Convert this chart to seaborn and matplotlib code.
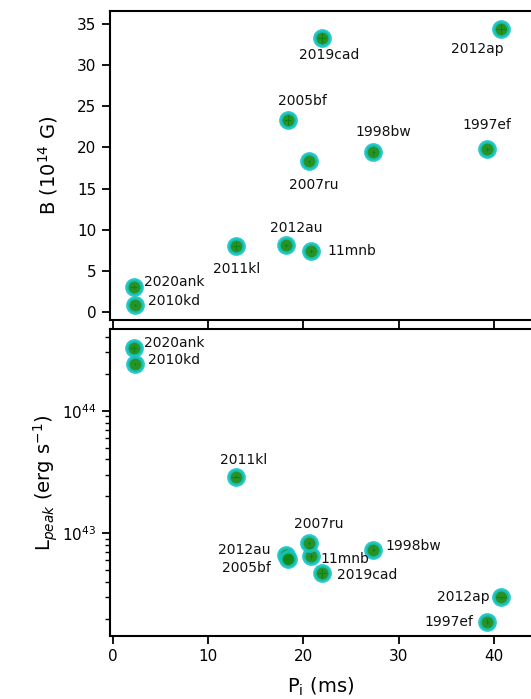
import numpy as np
import pandas as pd
import matplotlib
matplotlib.use("Agg")
import matplotlib.pyplot as plt
import seaborn as sns

# Supernova sample: initial spin period, magnetic field and peak luminosity
names = ["2020ank", "2010kd", "2011kl", "2012au", "11mnb", "2005bf",
         "2007ru", "2019cad", "1998bw", "1997ef", "2012ap"]
period_ms = [2.2, 2.35, 12.95, 18.2, 20.8, 18.35, 20.55, 21.95, 27.35, 39.3, 40.75]
period_err = [0.35, 0.1, 0.4, 0.2, 0.2, 0.35, 0.1, 0.4, 0.2, 0.15, 0.55]
b_field = [3.0, 0.8, 8.0, 8.1, 7.4, 23.3, 18.3, 33.3, 19.4, 19.8, 34.4]
b_err = [0.2, 0.1, 0.5, 0.2, 0.2, 0.6, 0.2, 0.6, 0.3, 0.2, 0.6]
l_peak = [3.23e44, 2.42e44, 2.90e43, 6.6e42, 6.5e42, 6.15e42, 8.3e42, 4.7e42,
          7.3e42, 1.9e42, 3.0e42]
l_err = [2.0e43, 0.5e43, 0.1e43, 0.1e42, 0.3e42, 0.1e42, 0.3e42, 0.4e42,
         0.3e42, 0.1e42, 0.1e42]

df = pd.DataFrame({"name": names, "P": period_ms, "Perr": period_err,
                   "B": b_field, "Berr": b_err, "L": l_peak, "Lerr": l_err})

# label placement (pixel offsets from each point, horizontal alignment)
top_labels = {
    "2020ank": (10, 5, "left"), "2010kd": (13, 4, "left"),
    "2011kl": (0, -23, "center"), "2012au": (10, 17, "center"),
    "11mnb": (16, 0, "left"), "2005bf": (15, 19, "center"),
    "2007ru": (5, -24, "center"), "2019cad": (7, -17, "center"),
    "1998bw": (10, 20, "center"), "1997ef": (0, 24, "center"),
    "2012ap": (-24, -20, "center"),
}
bottom_labels = {
    "2020ank": (10, 5, "left"), "2010kd": (13, 4, "left"),
    "2011kl": (7, 17, "center"), "2007ru": (10, 19, "center"),
    "2012au": (-16, 5, "right"), "2005bf": (-17, -9, "right"),
    "11mnb": (9, -3, "left"), "2019cad": (15, -2, "left"),
    "1998bw": (12, 4, "left"), "2012ap": (-12, 0, "right"),
    "1997ef": (-14, 0, "right"),
}

sns.set_style("ticks")
plt.rcParams["font.family"] = ["DejaVu Sans"]
plt.rcParams["axes.linewidth"] = 1.5
plt.rcParams["axes.edgecolor"] = "black"
plt.rcParams["axes.labelcolor"] = "black"
plt.rcParams["text.color"] = "black"
for a in ("xtick", "ytick"):
    plt.rcParams[f"{a}.major.width"] = 1.3
    plt.rcParams[f"{a}.major.size"] = 6
    plt.rcParams[f"{a}.minor.width"] = 1.0
    plt.rcParams[f"{a}.minor.size"] = 3.5
    plt.rcParams[f"{a}.color"] = "black"
    plt.rcParams[f"{a}.labelcolor"] = "black"
    plt.rcParams[f"{a}.labelsize"] = 11

W, H = 531, 699
fig = plt.figure(figsize=(W / 100, H / 100), dpi=100)
px_per_ms = 9.53
xlo, xhi = -0.35, 44.0
left = 109.5 / W
width = (xhi - xlo) * px_per_ms / W
ax1 = fig.add_axes([left, (H - 320) / H, width, 309 / H])
ax2 = fig.add_axes([left, (H - 636) / H, width, 307 / H], sharex=ax1)

edge = "#14c4c4"
face = "#0f870f"


def draw(ax, ycol, yerrcol, labels):
    ax.errorbar(df["P"], df[ycol], xerr=df["Perr"], yerr=df[yerrcol],
                fmt="none", ecolor="#0a500a", elinewidth=0.8, zorder=1)
    sns.scatterplot(data=df, x="P", y=ycol, ax=ax, s=11 ** 2, color=face,
                    edgecolor=edge, linewidth=2.5, alpha=0.9, zorder=2,
                    legend=False)
    for _, row in df.iterrows():
        dx, dy, ha = labels[row["name"]]
        ax.annotate(row["name"], (row["P"], row[ycol]), xytext=(dx, dy),
                    textcoords="offset pixels", ha=ha, va="center",
                    fontsize=10, color="#111111")


draw(ax1, "B", "Berr", top_labels)
draw(ax2, "L", "Lerr", bottom_labels)

ax1.set_xlim(xlo, xhi)
ax1.set_ylim(-1.0, 36.6)
ax1.set_yticks([0, 5, 10, 15, 20, 25, 30, 35])
ax1.tick_params(axis="x", labelbottom=False)
ax1.set_xlabel("")
ax1.set_ylabel(r"B ($10^{14}$ G)", fontsize=14, labelpad=12)

ax2.set_yscale("log")
ax2.set_ylim(1.45e42, 4.64e44)
ax2.set_xticks([0, 10, 20, 30, 40])
ax2.set_xlabel(r"P$_\mathrm{i}$ (ms)", fontsize=14, labelpad=8)
ax2.set_ylabel(r"L$_{peak}$ (erg s$^{-1}$)", fontsize=14, labelpad=1)

for ax in (ax1, ax2):
    for s in ax.spines.values():
        s.set_visible(True)

fig.savefig("out.png", dpi=100)
